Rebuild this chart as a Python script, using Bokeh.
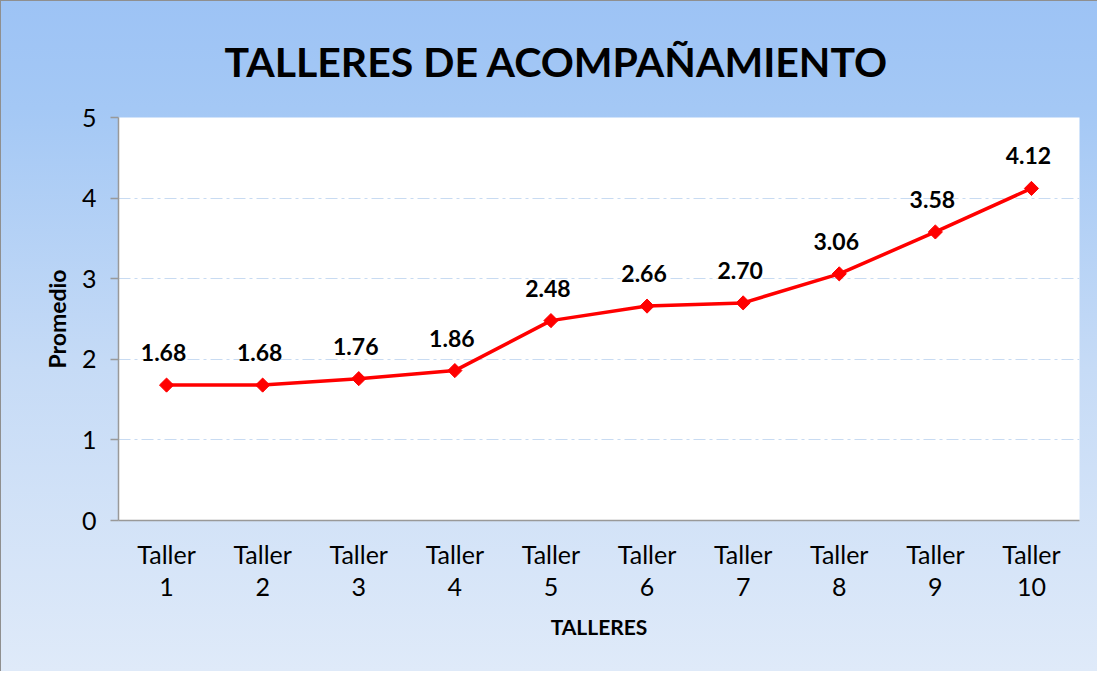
import math
from bokeh.plotting import figure
from bokeh.models import (ColumnDataSource, FixedTicker, Range1d, Title,
                          CategoricalAxis, CustomJSTickFormatter)
from bokeh.core.properties import value
from bokeh.embed import file_html
from bokeh.resources import INLINE

categories = ["Taller 1", "Taller 2", "Taller 3", "Taller 4", "Taller 5",
              "Taller 6", "Taller 7", "Taller 8", "Taller 9", "Taller 10"]
promedio = [1.68, 1.68, 1.76, 1.86, 2.48, 2.66, 2.70, 3.06, 3.58, 4.12]
y_ticks = [0, 1, 2, 3, 4, 5]
title_text = "TALLERES DE ACOMPAÑAMIENTO"
x_title = "TALLERES"
y_title = "Promedio"

FONT = "Lato"

src = ColumnDataSource(dict(x=categories, y=promedio,
                            lab=["%.2f" % v for v in promedio]))

W, H = 1097, 671
p = figure(x_range=categories, y_range=Range1d(0, 5),
           width=W, height=H, output_backend="svg", toolbar_location=None,
           min_border_left=117, min_border_right=W - 1078, min_border_top=116,
           min_border_bottom=H - 519)
p.title = None
p.border_fill_color = None
p.background_fill_color = "white"
p.outline_line_color = None
p.styles = {"background": "linear-gradient(to bottom, #9dc3f5 0%, #a4c8f5 16%, #c6dbf6 55%, #dfeaf9 100%)",
            "border-left": "1px solid #8f8f8f", "border-top": "1px solid #8f8f8f"}

p.line("x", "y", source=src, line_color="#ff0000", line_width=3.5)
p.scatter("x", "y", source=src, marker="square", angle=math.pi / 4, size=10,
          fill_color="#ff0000", line_color="#ff0000")
p.text("x", "y", text="lab", source=src, text_font=value(FONT),
       text_font_style="bold", text_font_size="23px", text_align="center",
       text_baseline="bottom", y_offset=-24, x_offset=-3, text_color="black")

# axes
p.yaxis.ticker = FixedTicker(ticks=y_ticks)
p.yaxis.formatter.use_scientific = False

# second x axis (numbers under "Taller")
xnum = CategoricalAxis()
p.add_layout(xnum, "below")

for ax in (p.xaxis[0], p.yaxis[0], xnum):
    ax.axis_line_color = "#999999"
    ax.axis_line_width = 1.5
    ax.major_label_text_font = FONT
    ax.major_label_text_font_size = "25px"
    ax.major_label_text_color = "black"
    ax.axis_label_text_font = FONT
    ax.axis_label_text_font_style = "bold"
    ax.axis_label_text_font_size = "21px"
    ax.axis_label_text_color = "black"
    ax.minor_tick_line_color = None

p.yaxis.major_tick_in = 0
p.yaxis.major_tick_out = 8
p.yaxis.major_tick_line_color = "#999999"
p.yaxis.major_tick_line_width = 1.5
p.yaxis.major_label_standoff = 14
p.yaxis.axis_label = y_title
p.yaxis.axis_label_text_font_size = "23px"
p.yaxis.axis_label_standoff = 8

xt = p.xaxis[0]
xt.major_tick_line_color = None
xt.major_tick_in = 0
xt.major_tick_out = 0
xt.major_label_standoff = 18
xt.formatter = CustomJSTickFormatter(code="return tick.split(' ')[0];")

xnum.axis_line_color = None
xnum.major_tick_line_color = None
xnum.major_tick_in = 0
xnum.major_tick_out = 0
xnum.major_label_standoff = 6
xnum.formatter = CustomJSTickFormatter(code="return tick.split(' ')[1];")
xnum.axis_label = x_title
xnum.axis_label_standoff = 15

p.xgrid.grid_line_color = None
p.ygrid.grid_line_color = "#c8dbf2"
p.ygrid.grid_line_width = 1.2
p.ygrid.grid_line_dash = "12 4 3 4"

p.add_layout(Title(text=title_text, text_font=FONT, text_font_style="bold",
                   text_font_size="41px", align="left", offset=106,
                   text_color="black", standoff=63), "above")

open("out.html", "w").write(file_html(p, INLINE))
